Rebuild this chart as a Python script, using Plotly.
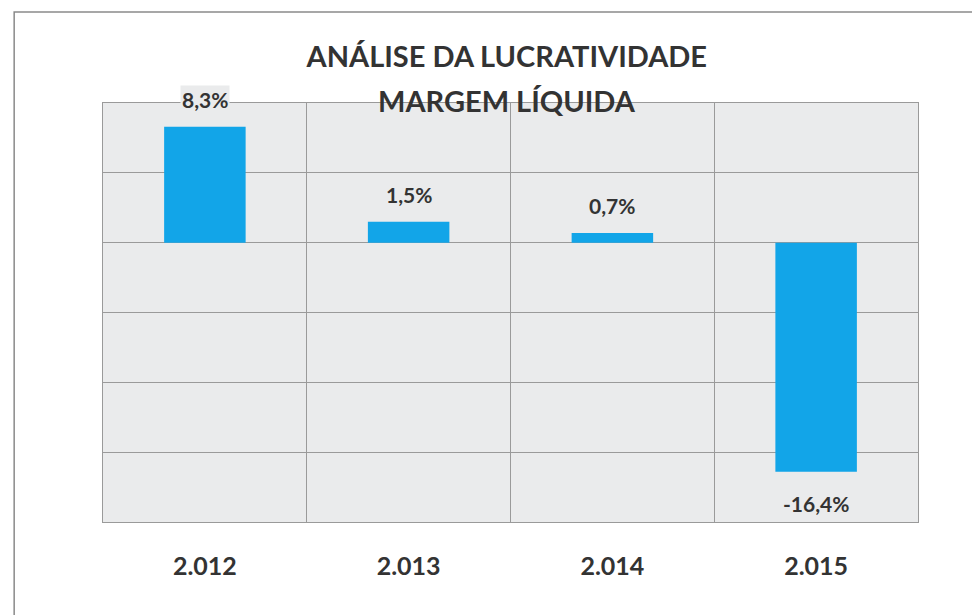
import plotly.graph_objects as go

years = ["2.012", "2.013", "2.014", "2.015"]
margem = [8.3, 1.5, 0.7, -16.4]
labels = [f"{v:.1f}%".replace(".", ",") for v in margem]
title_lines = ["ANÁLISE DA LUCRATIVIDADE", "MARGEM LÍQUIDA"]

bar_color = "#12A5E8"
plot_bg = "#EAEBEC"
grid = "#9A9A9A"
text_col = "#333333"
font_fam = "Lato, 'Open Sans', sans-serif"

fig = go.Figure()
fig.add_trace(go.Bar(x=years, y=margem, marker=dict(color=bar_color, line=dict(width=0)),
                     width=0.4, hoverinfo="skip"))

annotations = []
for i, (v, t) in enumerate(zip(margem, labels)):
    annotations.append(dict(x=i, y=v, xref="x", yref="y", text=f"<b>{t}</b>", showarrow=False,
                            yanchor="bottom" if v >= 0 else "top",
                            yshift=13 if v >= 0 else -17,
                            font=dict(size=21, color=text_col, family=font_fam),
                            bgcolor=plot_bg, borderpad=1))

annotations.append(dict(x=0.4957, y=1.007, xref="paper", yref="paper", xanchor="center",
                        yanchor="middle", showarrow=False, text=f"<b>{title_lines[1]}</b>",
                        font=dict(size=29, color=text_col, family=font_fam)))

fig.update_layout(
    width=980, height=615,
    margin=dict(l=95, r=70, t=95, b=101),
    paper_bgcolor="white", plot_bgcolor=plot_bg,
    showlegend=False,
    title=dict(text=f"<b>{title_lines[0]}</b>",
               x=0.509, xanchor="center", y=0.920, yanchor="middle",
               font=dict(size=29, color=text_col, family=font_fam)),
    xaxis=dict(type="category", tickson="boundaries", showgrid=True, gridcolor=grid, gridwidth=1.2,
               showline=True, linecolor=grid, linewidth=1.2, mirror=True, ticks="",
               tickprefix="<b>", ticksuffix="</b>",
               tickfont=dict(size=25, color=text_col, family=font_fam), ticklabelstandoff=22),
    yaxis=dict(range=[-20, 10], dtick=5, showgrid=True, gridcolor=grid, gridwidth=1.2,
               showticklabels=False, zeroline=False, showline=True, linecolor=grid,
               linewidth=1.2, mirror=True, ticks=""),
    annotations=annotations,
    shapes=[dict(type="rect", xref="paper", yref="paper", x0=-0.109, x1=1.09, y0=-0.25, y1=1.217,
                 line=dict(color="#8A8A8A", width=1.5), fillcolor="rgba(0,0,0,0)", layer="below")],
)

fig.write_html("out.html")
